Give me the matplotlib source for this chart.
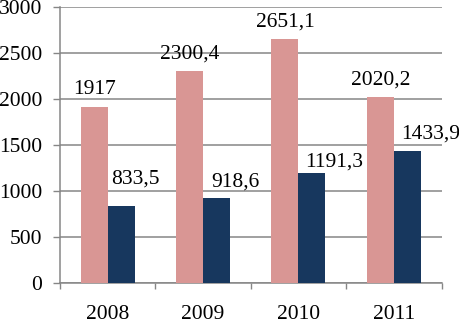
import numpy as np
import matplotlib
matplotlib.use("Agg")
import matplotlib.pyplot as plt

years = ["2008", "2009", "2010", "2011"]
series_a = [1917, 2300.4, 2651.1, 2020.2]
series_b = [833.5, 918.6, 1191.3, 1433.9]
yticks = [0, 500, 1000, 1500, 2000, 2500, 3000]

col_a = "#D99694"
col_b = "#17375E"
grid_col = "#868686"

# label nudges in pixels (navy labels were dragged off-centre in the original)
b_shift = [(14, 23), (19, 12), (22, 7), (23, 13)]

plt.rcParams["font.family"] = ["Liberation Serif", "DejaVu Serif"]
fs = 15.5

fig = plt.figure(figsize=(4.6, 3.22), dpi=100)
ax = fig.add_axes([60 / 460, 1 - 283 / 322, 381.5 / 460, 276 / 322])

x = np.arange(len(years))
w = 0.283
ax.bar(x - w / 2, series_a, w, color=col_a, zorder=3)
ax.bar(x + w / 2, series_b, w, color=col_b, zorder=3)

fmt = lambda v: f"{v:g}".replace(".", ",")
for i, v in enumerate(series_a):
    ax.annotate(fmt(v), (x[i] - w / 2, v), xytext=(0, 13), textcoords="offset pixels",
                ha="center", va="baseline", fontsize=fs, zorder=4)
for i, v in enumerate(series_b):
    dx, dy = b_shift[i]
    ax.annotate(fmt(v), (x[i] + w / 2, v), xytext=(dx, dy), textcoords="offset pixels",
                ha="center", va="baseline", fontsize=fs, zorder=4)

ax.set_xlim(-0.5, len(years) - 0.5)
ax.set_ylim(0, 3000)
ax.set_yticks(yticks)
ax.set_yticklabels([str(t) for t in yticks], fontsize=fs)
ax.yaxis.grid(True, color=grid_col, linewidth=1.1, zorder=0)
ax.tick_params(axis="y", length=5, width=1, color=grid_col, pad=8)

# category labels in the middle, ticks on the boundaries
ax.set_xticks(np.arange(len(years) + 1) - 0.5)
ax.set_xticklabels([])
ax.set_xticks(x, minor=True)
ax.set_xticklabels(years, minor=True, fontsize=fs)
ax.tick_params(axis="x", which="major", length=4, width=1, color=grid_col)
ax.tick_params(axis="x", which="minor", length=0, pad=15.5)

for s in ["top", "right"]:
    ax.spines[s].set_visible(False)
for s in ["left", "bottom"]:
    ax.spines[s].set_color(grid_col)
    ax.spines[s].set_linewidth(1.1)

fig.savefig("out.png", dpi=100)
